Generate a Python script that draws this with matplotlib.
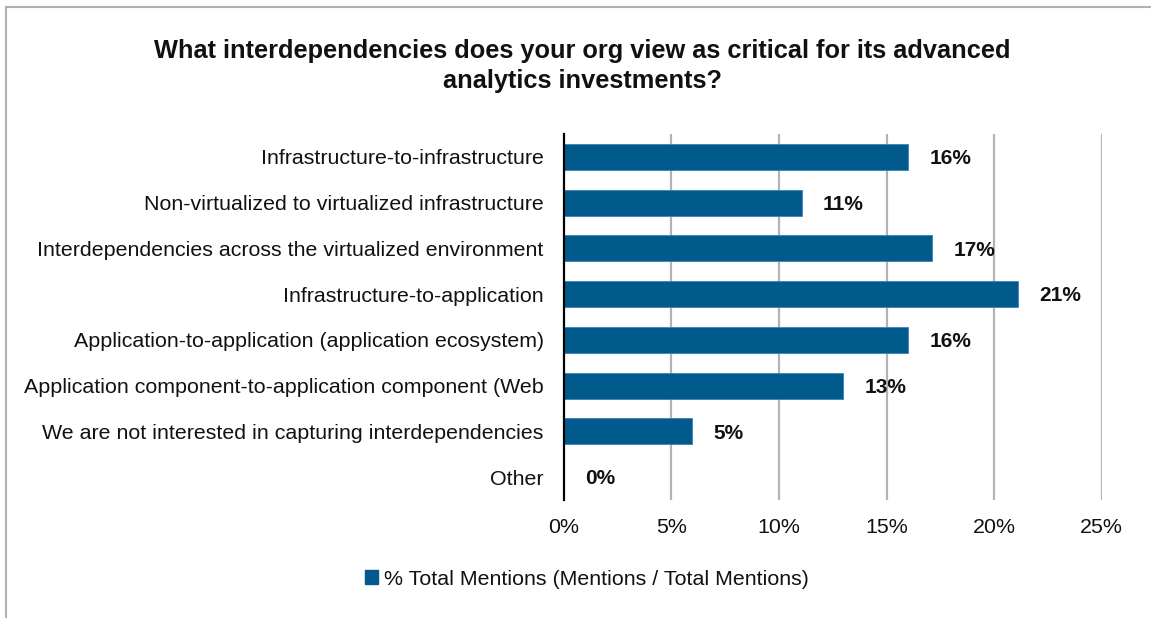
import matplotlib.pyplot as plt
from matplotlib.patches import Patch, Rectangle

plt.rcParams['font.family'] = ['Liberation Sans', 'DejaVu Sans']

# data
categories = [
    "Infrastructure-to-infrastructure",
    "Non-virtualized to virtualized infrastructure",
    "Interdependencies across the virtualized environment",
    "Infrastructure-to-application",
    "Application-to-application (application ecosystem)",
    "Application component-to-application component (Web",
    "We are not interested in capturing interdependencies",
    "Other",
]
values = [16.0, 11.05, 17.1, 21.1, 16.0, 13.0, 5.95, 0.0]
value_labels = ["16%", "11%", "17%", "21%", "16%", "13%", "5%", "0%"]
xticks = [0, 5, 10, 15, 20, 25]
series_name = "% Total Mentions (Mentions / Total Mentions)"

bar_color = "#005A8C"
grid_color = "#b3b3b3"
text_color = "#111111"

fig = plt.figure(figsize=(11.51, 6.18), dpi=100)
ax = fig.add_axes([0.490, 0.191, 0.467, 0.592])

ypos = list(range(len(categories)))
ax.barh(ypos, values, height=0.57, color=bar_color, edgecolor="#3f80b6",
        linewidth=0.6, zorder=3)

for y, v, lab in zip(ypos, values, value_labels):
    ax.text(v + 1.0, y + 0.04, lab, va="center", ha="left", fontsize=15,
            fontweight="bold", color=text_color, zorder=4)

ax.set_ylim(len(categories) - 0.5, -0.5)
ax.set_yticks(ypos)
ax.set_yticklabels(categories, fontsize=15.4, color=text_color)
ax.set_xlim(0, 25)
ax.set_xticks(xticks)
ax.set_xticklabels([f"{t}%" for t in xticks], fontsize=15.4, color=text_color)
ax.tick_params(axis="both", length=0)
ax.tick_params(axis="y", pad=14.5)
ax.tick_params(axis="x", pad=13)

for t in xticks[1:]:
    ax.axvline(t, color=grid_color, linewidth=1.6, zorder=1)

for s in ["top", "right", "bottom"]:
    ax.spines[s].set_visible(False)
ax.spines["left"].set_linewidth(1.6)
ax.spines["left"].set_color("black")
ax.spines["left"].set_zorder(5)

fig.text(0.506, 0.893,
         "What interdependencies does your org view as critical for its advanced\nanalytics investments?",
         ha="center", va="center", fontsize=18.3, fontweight="bold",
         linespacing=1.35, color=text_color)

fig.legend(handles=[Patch(facecolor=bar_color, edgecolor=bar_color)],
           labels=[series_name], loc="center", bbox_to_anchor=(0.51, 0.063),
           frameon=False, fontsize=15.4, handlelength=0.6, handleheight=0.6,
           handletextpad=0.3, labelcolor=text_color)

# outer chart frame (only top/left edges visible in the reference)
fig.patches.append(Rectangle((6 / 1151, -0.1), 1.2, 1.1 - 7 / 618,
                             transform=fig.transFigure, fill=False,
                             edgecolor="#b0b0b0", linewidth=1.5))

fig.savefig("out.png", dpi=100)
